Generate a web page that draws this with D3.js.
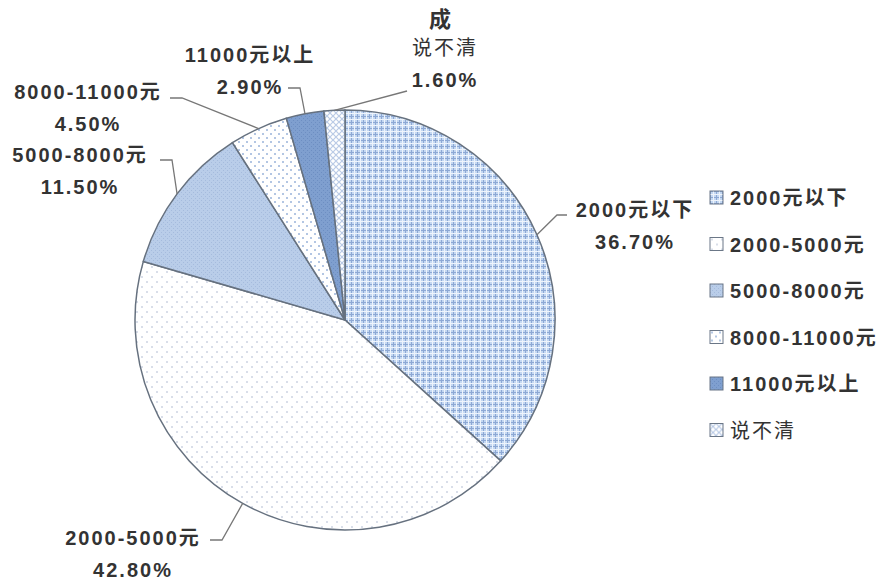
<!DOCTYPE html>
<html>
<head>
<meta charset="utf-8">
<script src="https://cdn.jsdelivr.net/npm/d3@7"></script>
<style>
  body { margin: 0; background: #fff; }
  text { font-family: "Liberation Sans", "Noto Sans CJK SC", sans-serif; fill: #333; }
</style>
</head>
<body>
<div id="chart"></div>
<script>
// data
let categories = ["2000元以下", "2000-5000元", "5000-8000元", "8000-11000元", "11000元以上", "说不清"];
let values = [36.7, 42.8, 11.5, 4.5, 2.9, 1.6];
let valueLabels = ["36.70%", "42.80%", "11.50%", "4.50%", "2.90%", "1.60%"];

let width = 886, height = 581;
let cx = 345, cy = 320, radius = 210;

let svg = d3.select('#chart')
    .append('svg')
    .attr('width', width)
    .attr('height', height);

let defs = svg.append('defs');

// pattern fills, one per slice
function pattern(id, size, bg, draw) {
    let p = defs.append('pattern')
        .attr('id', id)
        .attr('patternUnits', 'userSpaceOnUse')
        .attr('width', size)
        .attr('height', size);
    p.append('rect').attr('width', size).attr('height', size).attr('fill', bg);
    draw(p);
}

pattern('p0', 6, '#c4d8f2', function (p) {
    p.append('rect').attr('x', 0).attr('y', 0).attr('width', 1).attr('height', 6).attr('fill', '#8da8d4');
    p.append('rect').attr('x', 0).attr('y', 0).attr('width', 6).attr('height', 1).attr('fill', '#8da8d4');
    p.append('rect').attr('x', 3).attr('y', 0).attr('width', 1).attr('height', 6).attr('fill', '#eef4fc');
    p.append('rect').attr('x', 0).attr('y', 3).attr('width', 6).attr('height', 1).attr('fill', '#eef4fc');
});
pattern('p1', 10, '#ffffff', function (p) {
    p.append('rect').attr('x', 1).attr('y', 1).attr('width', 2).attr('height', 2).attr('fill', '#d9dee9');
    p.append('rect').attr('x', 6).attr('y', 6).attr('width', 2).attr('height', 2).attr('fill', '#d9dee9');
});
pattern('p2', 4, '#b9cde9', function (p) {
    p.append('rect').attr('x', 0).attr('y', 0).attr('width', 1).attr('height', 1).attr('fill', '#a5bbdd');
    p.append('rect').attr('x', 2).attr('y', 2).attr('width', 1).attr('height', 1).attr('fill', '#a5bbdd');
});
pattern('p3', 8, '#ffffff', function (p) {
    p.append('rect').attr('x', 1).attr('y', 1).attr('width', 2).attr('height', 2).attr('fill', '#b3c6e3');
    p.append('rect').attr('x', 5).attr('y', 5).attr('width', 2).attr('height', 2).attr('fill', '#b3c6e3');
});
pattern('p4', 4, '#7f9fcf', function (p) {
    p.append('rect').attr('x', 0).attr('y', 0).attr('width', 1).attr('height', 1).attr('fill', '#6d8ec2');
    p.append('rect').attr('x', 2).attr('y', 2).attr('width', 1).attr('height', 1).attr('fill', '#6d8ec2');
});
pattern('p5', 6, '#ffffff', function (p) {
    p.append('path').attr('d', 'M0,0L6,6M6,0L0,6').attr('stroke', '#b9cae6').attr('stroke-width', 1.2);
});

let fills = ['url(#p0)', 'url(#p1)', 'url(#p2)', 'url(#p3)', 'url(#p4)', 'url(#p5)'];

let pie = d3.pie().sort(null).value(function (d) { return d; });
let arcs = pie(values);
let arc = d3.arc().innerRadius(0).outerRadius(radius);

let g = svg.append('g').attr('transform', 'translate(' + cx + ',' + cy + ')');

g.selectAll('path.slice')
    .data(arcs)
    .enter()
    .append('path')
    .attr('class', 'slice')
    .attr('d', arc)
    .attr('fill', function (d, i) { return fills[i]; })
    .attr('stroke', '#66717f')
    .attr('stroke-width', 1.5);

// data labels: name + value, with leader lines (label anchors relative to the pie)
let labelPos = [
    { x: 290, y: -103, lx: 222, ly: -105 },
    { x: -212, y: 225, lx: -123, ly: 220 },
    { x: -265, y: -158, lx: -173, ly: -160 },
    { x: -257, y: -221, lx: -163, ly: -222 },
    { x: -95, y: -258, lx: -45, ly: -232 },
    { x: 100, y: -265, lx: 62, ly: -229 }
];

let outer = d3.arc().innerRadius(radius).outerRadius(radius);

arcs.forEach(function (d, i) {
    let lp = labelPos[i];
    let edge = outer.centroid(d);
    let pts;
    if (i === 5) {
        pts = [edge, [lp.lx, lp.ly]];
    } else if (lp.lx > 0) {
        pts = [edge, [lp.lx - 10, lp.ly], [lp.lx, lp.ly]];
    } else {
        pts = [edge, [lp.lx, lp.ly], [lp.lx - 12, lp.ly]];
    }
    g.append('path')
        .attr('d', d3.line()(pts))
        .attr('fill', 'none')
        .attr('stroke', '#777')
        .attr('stroke-width', 1.3);

    g.append('text')
        .attr('x', lp.x)
        .attr('y', lp.y)
        .attr('text-anchor', 'middle')
        .style('font-size', '20px')
        .style('letter-spacing', '2px')
        .style('font-weight', i === 5 ? 'normal' : 'bold')
        .text(categories[i]);
    g.append('text')
        .attr('x', lp.x)
        .attr('y', lp.y + 32)
        .attr('text-anchor', 'middle')
        .style('font-size', '20px')
        .style('letter-spacing', '2px')
        .style('font-weight', 'bold')
        .text(valueLabels[i]);
});

// cropped title fragment at top
svg.append('text')
    .attr('x', 440)
    .attr('y', 27)
    .attr('text-anchor', 'middle')
    .style('font-size', '22px')
    .style('font-weight', 'bold')
    .style('font-family', '"Noto Sans CJK SC"')
    .text('成');

// legend
let legend = svg.append('g').attr('transform', 'translate(710,191)');
let item = legend.selectAll('g')
    .data(categories)
    .enter()
    .append('g')
    .attr('transform', function (d, i) { return 'translate(0,' + (i * 46.5) + ')'; });
item.append('rect')
    .attr('width', 13)
    .attr('height', 13)
    .attr('fill', function (d, i) { return fills[i]; })
    .attr('stroke', '#6b7787')
    .attr('stroke-width', 1);
item.append('text')
    .attr('x', 20)
    .attr('y', 14)
    .style('font-size', '20px')
    .style('letter-spacing', '2px')
    .style('font-weight', function (d, i) { return i === 5 ? 'normal' : 'bold'; })
    .text(function (d) { return d; });
</script>
</body>
</html>
